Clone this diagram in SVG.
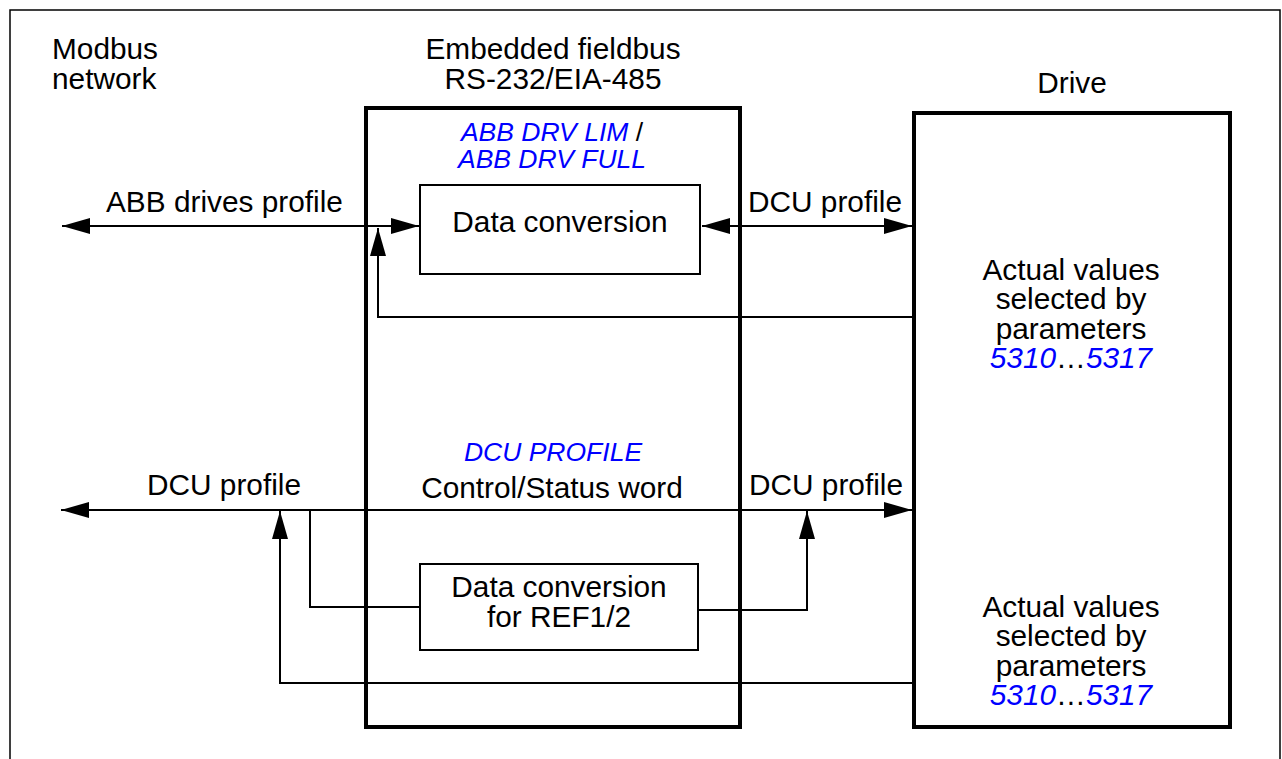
<svg xmlns="http://www.w3.org/2000/svg" width="1282" height="759" viewBox="0 0 1282 759">
<style>
text{font-family:"Liberation Sans",Arial,sans-serif;font-size:29.8px;fill:#000}
.c{text-anchor:middle}
.b{fill:#0000ff;font-style:italic}
.bs{font-size:26.5px}
.thick{fill:none;stroke:#000;stroke-width:4}
.box{fill:none;stroke:#000;stroke-width:2}
.ln{fill:none;stroke:#000;stroke-width:2}
</style>
<defs>
<marker id="ah" markerUnits="userSpaceOnUse" markerWidth="28" markerHeight="16" refX="28" refY="8" orient="auto-start-reverse">
<path d="M0,0 L28,8 L0,16 z" fill="#000"/>
</marker>
</defs>
<rect width="1282" height="759" fill="#fff"/>
<path d="M10,770 V10 H1280 V770" fill="none" stroke="#000" stroke-width="1.5"/>

<g id="modbus">
<text x="52" y="59">Modbus<tspan x="52" y="89">network</tspan></text>
</g>

<g id="embedded">
<text class="c" x="553" y="59">Embedded fieldbus<tspan x="553" y="89">RS-232/EIA-485</tspan></text>
<rect class="thick" x="366" y="108" width="374" height="619"/>
<text class="c b bs" x="552" y="141">ABB DRV LIM <tspan style="fill:#000;font-style:normal">/</tspan></text>
<text class="c b bs" x="552" y="168">ABB DRV FULL</text>
<text class="c b bs" x="553" y="461">DCU PROFILE</text>
<text class="c" x="552" y="498">Control/Status word</text>
</g>

<g id="conv1">
<rect class="box" x="420" y="185" width="280" height="89"/>
<text class="c" x="560" y="232">Data conversion</text>
</g>

<g id="conv2">
<rect class="box" x="420" y="564" width="278" height="86"/>
<text class="c" x="559" y="597">Data conversion<tspan x="559" y="627">for REF1/2</tspan></text>
</g>

<g id="drive">
<text class="c" x="1072" y="93">Drive</text>
<rect class="thick" x="914" y="113" width="316" height="614"/>
<text class="c" x="1071" y="280">Actual values<tspan x="1071" y="309">selected by</tspan><tspan x="1071" y="339">parameters</tspan><tspan x="1071" y="368"><tspan class="b">5310</tspan>…<tspan class="b">5317</tspan></tspan></text>
<text class="c" x="1071" y="617">Actual values<tspan x="1071" y="646">selected by</tspan><tspan x="1071" y="676">parameters</tspan><tspan x="1071" y="705"><tspan class="b">5310</tspan>…<tspan class="b">5317</tspan></tspan></text>
</g>

<g id="connectors">
<path class="ln" d="M62,226 H419" marker-start="url(#ah)" marker-end="url(#ah)"/>
<path class="ln" d="M702,226 H912" marker-start="url(#ah)" marker-end="url(#ah)"/>
<path class="ln" d="M912,317 H378 V228" marker-end="url(#ah)"/>
<path class="ln" d="M61,510 H912" marker-start="url(#ah)" marker-end="url(#ah)"/>
<path class="ln" d="M310,510 V607 H420"/>
<path class="ln" d="M698,610 H807 V511" marker-end="url(#ah)"/>
<path class="ln" d="M912,683 H280 V511" marker-end="url(#ah)"/>
<text x="106" y="212">ABB drives profile</text>
<text x="748" y="212">DCU profile</text>
<text x="147" y="495">DCU profile</text>
<text x="749" y="495">DCU profile</text>
</g>
</svg>
